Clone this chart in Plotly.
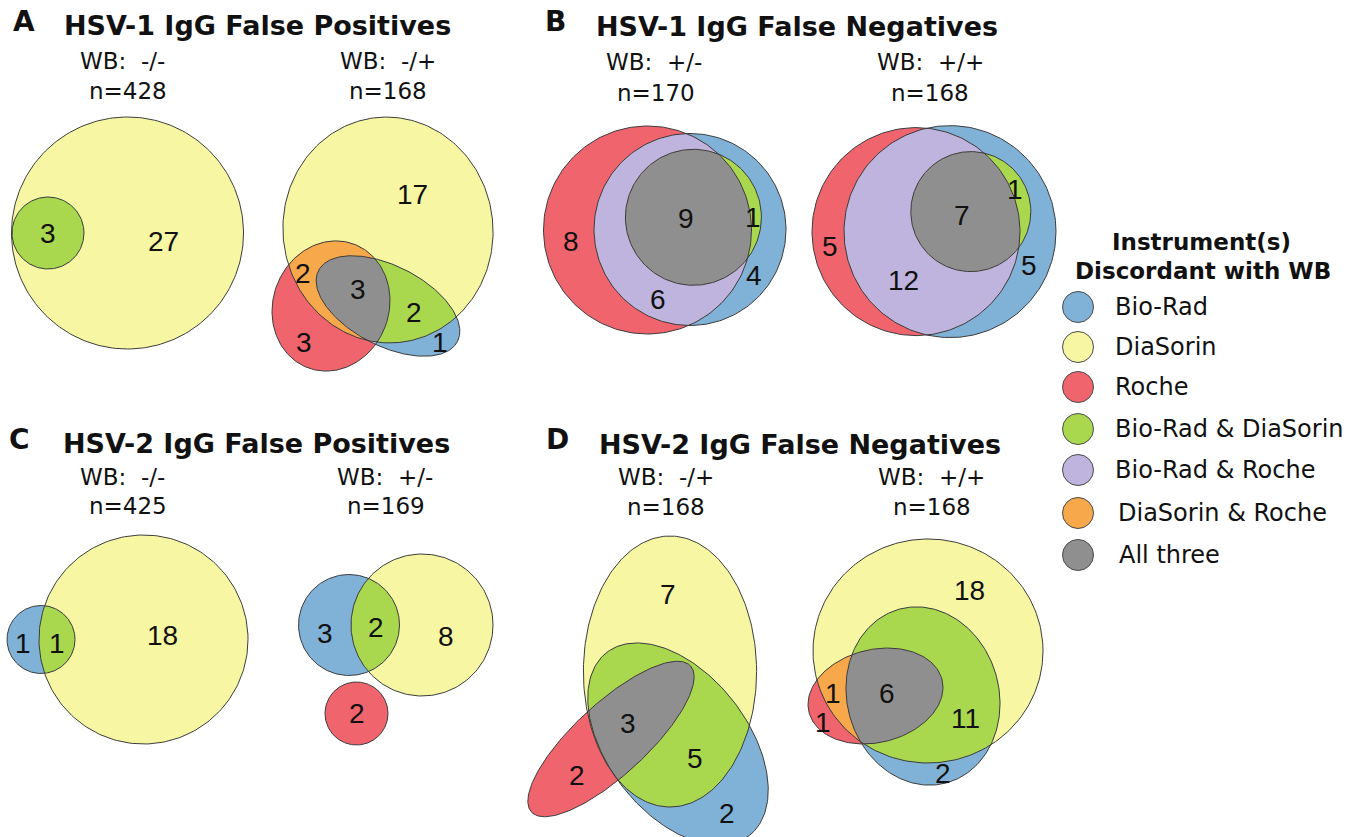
import numpy as np
import plotly.graph_objects as go

# ---------------------------------------------------------------- data
region_names = ["Bio-Rad", "DiaSorin", "Roche", "Bio-Rad & DiaSorin",
                "Bio-Rad & Roche", "DiaSorin & Roche", "All three"]
region_colors = ["#80b1d6", "#f7f7a3", "#ef646d", "#a9d84f",
                 "#beb4dd", "#f6a84a", "#8f8f8f"]

panel_letters = ["A", "B", "C", "D"]
panel_titles = ["HSV-1 IgG False Positives", "HSV-1 IgG False Negatives",
                "HSV-2 IgG False Positives", "HSV-2 IgG False Negatives"]

wb_patterns = ["-/-", "-/+", "+/-", "+/+", "-/-", "+/-", "-/+", "+/+"]
n_samples = [428, 168, 170, 168, 425, 169, 168, 168]

# discordant counts per region, in the order of region_names
hsv1_fp_neg_neg = [0, 27, 0, 3, 0, 0, 0]
hsv1_fp_neg_pos = [1, 17, 3, 2, 0, 2, 3]
hsv1_fn_pos_neg = [4, 0, 8, 1, 6, 0, 9]
hsv1_fn_pos_pos = [5, 0, 5, 1, 12, 0, 7]
hsv2_fp_neg_neg = [1, 18, 0, 1, 0, 0, 0]
hsv2_fp_pos_neg = [3, 8, 2, 2, 0, 0, 0]
hsv2_fn_neg_pos = [2, 7, 2, 5, 0, 0, 3]
hsv2_fn_pos_pos = [2, 18, 1, 11, 0, 1, 6]

diagram_counts = [hsv1_fp_neg_neg, hsv1_fp_neg_pos, hsv1_fn_pos_neg, hsv1_fn_pos_pos,
                  hsv2_fp_neg_neg, hsv2_fp_pos_neg, hsv2_fn_neg_pos, hsv2_fn_pos_pos]

# ---------------------------------------------------------------- layout (pixel space)
W, H = 1358, 837
LINE = "#3c3c3c"
TEXT_FONT = "DejaVu Sans"
NUM_FONT = "Liberation Sans"

# ellipse per instrument: (cx, cy, rx, ry, rotation in degrees)
diagram_shapes = [
    {"B": (48, 233, 36, 36, 0), "D": (127.5, 233, 116, 116, 0), "R": None},
    {"B": (388, 306, 78, 40, 27), "D": (388, 230, 105, 113, -6), "R": (331, 306, 58, 66, 20)},
    {"B": (690, 229.5, 96, 96, 0), "D": (693.4, 217.3, 68, 68, 0), "R": (647.5, 230, 104, 104, 0)},
    {"B": (950, 231.6, 106, 106, 0), "D": (970.8, 211.6, 60, 60, 0), "R": (916, 231.6, 104, 104, 0)},
    {"B": (41, 639.5, 34, 34, 0), "D": (143.5, 639.5, 104.5, 104.5, 0), "R": None},
    {"B": (349, 625, 50.5, 50.5, 0), "D": (422, 625, 71, 71, 0), "R": (356.5, 713.5, 31.5, 31.5, 0)},
    {"B": (678, 744, 116, 70, 52), "D": (670, 671.5, 86.6, 135.5, 0), "R": (611, 739, 108, 36, -42.6)},
    {"B": (923, 696, 76, 90, -15), "D": (928, 651, 115, 112, 0), "R": (875.5, 696, 68.5, 46.5, -13.5)},
]

# where each region's count is written (region index -> x, y)
diagram_label_pos = [
    {1: (163, 241), 3: (48, 233)},
    {1: (412, 194), 5: (303, 273), 6: (358, 289), 3: (414, 312), 2: (304, 342), 0: (440, 342)},
    {2: (570.6, 241), 6: (686, 218.7), 3: (752.5, 217), 0: (754, 275.5), 4: (657.8, 299.6)},
    {2: (830, 246), 4: (903, 280.7), 6: (961.5, 215), 3: (1015, 189.4), 0: (1029, 265)},
    {0: (23, 643), 3: (57, 643), 1: (162, 635)},
    {0: (325, 633), 3: (376, 627), 1: (446, 636), 2: (357, 713)},
    {1: (668, 594), 6: (628, 723), 3: (695, 758), 2: (577, 775), 0: (727, 813)},
    {1: (969.4, 590.8), 5: (833, 693), 2: (823, 722), 6: (887, 693), 3: (965, 718), 0: (943, 773)},
]

# header of each diagram: x of "WB" line, x of "n=" line, y of both lines
diagram_heads = [
    (122, 128, 61, 91), (388, 388, 61, 91), (654, 656, 62, 93), (930, 930, 62, 93),
    (122, 128, 477, 506), (385, 386, 477, 506), (666, 666, 477, 507), (931.6, 931.6, 477, 507),
]

panel_title_pos = [(257, 25), (797, 26), (256, 443), (800, 444)]
panel_letter_pos = [(24, 21), (555, 21), (19, 439), (557, 439)]

legend_circle_x = 1078
legend_text_x = [1113, 1113, 1113, 1113, 1113, 1116, 1117]
legend_y = [307, 347, 387, 429, 470, 513, 555]


# ---------------------------------------------------------------- geometry helpers
def ellipse_poly(cx, cy, rx, ry, ang, n=240):
    t = np.linspace(0, 2 * np.pi, n, endpoint=False)
    a = np.deg2rad(ang)
    x = cx + rx * np.cos(t) * np.cos(a) - ry * np.sin(t) * np.sin(a)
    y = cy + rx * np.cos(t) * np.sin(a) + ry * np.sin(t) * np.cos(a)
    return list(zip(x, y))


def signed_area(poly):
    s = 0.0
    for i in range(len(poly)):
        x1, y1 = poly[i]
        x2, y2 = poly[(i + 1) % len(poly)]
        s += x1 * y2 - x2 * y1
    return s / 2


def clip(subject, clipper):
    """Sutherland-Hodgman clipping against a convex polygon."""
    if not subject or not clipper:
        return []
    sgn = 1 if signed_area(clipper) > 0 else -1

    def inside(p, a, b):
        return sgn * ((b[0] - a[0]) * (p[1] - a[1]) - (b[1] - a[1]) * (p[0] - a[0])) >= 0

    def cross_pt(s, e, a, b):
        dx1, dy1 = e[0] - s[0], e[1] - s[1]
        dx2, dy2 = b[0] - a[0], b[1] - a[1]
        den = dx1 * dy2 - dy1 * dx2
        if abs(den) < 1e-12:
            return e
        t = ((a[0] - s[0]) * dy2 - (a[1] - s[1]) * dx2) / den
        return (s[0] + t * dx1, s[1] + t * dy1)

    out = subject
    m = len(clipper)
    for i in range(m):
        a, b = clipper[i], clipper[(i + 1) % m]
        inp, out = out, []
        if not inp:
            break
        s = inp[-1]
        for e in inp:
            if inside(e, a, b):
                if not inside(s, a, b):
                    out.append(cross_pt(s, e, a, b))
                out.append(e)
            elif inside(s, a, b):
                out.append(cross_pt(s, e, a, b))
            s = e
    return out


fig = go.Figure()


def add_fill(poly, color):
    if len(poly) < 3:
        return
    xs = [p[0] for p in poly] + [poly[0][0]]
    ys = [p[1] for p in poly] + [poly[0][1]]
    fig.add_trace(go.Scatter(x=xs, y=ys, mode="lines", fill="toself", fillcolor=color,
                             line=dict(width=0, color=color), hoverinfo="skip"))


def add_outline(poly):
    xs = [p[0] for p in poly] + [poly[0][0]]
    ys = [p[1] for p in poly] + [poly[0][1]]
    fig.add_trace(go.Scatter(x=xs, y=ys, mode="lines", line=dict(width=1, color=LINE),
                             hoverinfo="skip"))


annotations = []


def add_text(x, y, text, size, family=TEXT_FONT, bold=False, xanchor="center"):
    if bold:
        text = "<b>" + text + "</b>"
    annotations.append(dict(x=x, y=y, xref="x", yref="y", text=text, showarrow=False,
                            xanchor=xanchor, yanchor="middle",
                            font=dict(family=family, size=size, color="#111111")))


# ---------------------------------------------------------------- Euler diagrams
for k, shapes in enumerate(diagram_shapes):
    polys = {key: (ellipse_poly(*spec) if spec else []) for key, spec in shapes.items()}
    B, D, R = polys["B"], polys["D"], polys["R"]
    # single-instrument areas
    add_fill(D, region_colors[1])
    add_fill(B, region_colors[0])
    add_fill(R, region_colors[2])
    # pairwise overlaps
    BD = clip(B, D)
    BR = clip(B, R)
    DR = clip(D, R)
    add_fill(BD, region_colors[3])
    add_fill(BR, region_colors[4])
    add_fill(DR, region_colors[5])
    # all three
    add_fill(clip(BD, R), region_colors[6])
    for p in (D, B, R):
        if p:
            add_outline(p)

    counts = diagram_counts[k]
    for idx, (lx, ly) in diagram_label_pos[k].items():
        if counts[idx]:
            add_text(lx, ly, str(counts[idx]), 28, family=NUM_FONT)

    xw, xn, yw, yn = diagram_heads[k]
    add_text(xw, yw, "WB:\u00a0 " + wb_patterns[k], 23)
    add_text(xn, yn, "n=" + str(n_samples[k]), 23)

# panel titles
for i in range(4):
    add_text(*panel_title_pos[i], panel_titles[i], 27, bold=True)
    add_text(*panel_letter_pos[i], panel_letters[i], 28, bold=True)

# legend
add_text(1201, 242, "Instrument(s)", 23, bold=True)
add_text(1203, 271, "Discordant with WB", 23, bold=True)
fig.add_trace(go.Scatter(x=[legend_circle_x] * len(region_names), y=legend_y, mode="markers",
                         marker=dict(size=31, color=region_colors, line=dict(width=1, color="#4a4a4a")),
                         hoverinfo="skip"))
for name, tx, ty in zip(region_names, legend_text_x, legend_y):
    add_text(tx, ty, name, 24, xanchor="left")

fig.update_layout(
    width=W, height=H, margin=dict(l=0, r=0, t=0, b=0),
    paper_bgcolor="white", plot_bgcolor="white", showlegend=False,
    xaxis=dict(range=[0, W], visible=False, fixedrange=True),
    yaxis=dict(range=[H, 0], visible=False, fixedrange=True),
    annotations=annotations,
)

fig.write_html("out.html")
